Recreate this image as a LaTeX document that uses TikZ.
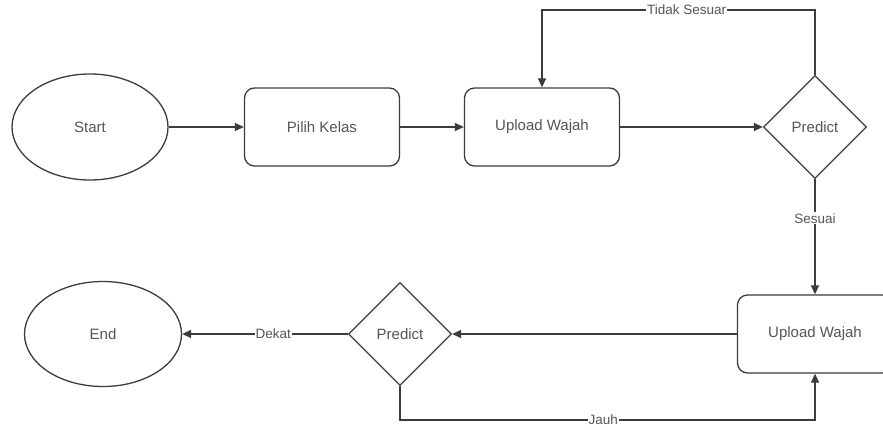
\documentclass[tikz,border=0pt]{standalone}
\usepackage{fontspec}
\setmainfont{Liberation Sans}
\usetikzlibrary{shapes.geometric,arrows.meta}
\definecolor{linec}{HTML}{3C3C3C}
\definecolor{textc}{HTML}{555555}
\tikzset{
  base/.style={draw=linec, line width=1.3pt, text=textc, font=\fontsize{15}{18}\selectfont, inner sep=0pt},
  term/.style={base, ellipse, minimum width=156pt, minimum height=106pt},
  proc/.style={base, rectangle, rounded corners=10pt, minimum width=155pt, minimum height=78pt},
  dec/.style={base, diamond, aspect=1, minimum width=103pt, minimum height=103pt},
  arr/.style={draw=linec, line width=1.3pt, -{Triangle[length=9pt,width=8pt]}},
  lbl/.style={fill=white, text=textc, font=\fontsize{13.5}{16}\selectfont, inner sep=1pt}
}
\begin{document}
\begin{tikzpicture}[x=1pt,y=-1pt]
\useasboundingbox (0,0) rectangle (883,429);
\clip (0,0) rectangle (883,429);
\fill[white] (0,0) rectangle (883,429);
\node[term] (start) at (90,127) {Start};
\node[proc] (pilih) at (322,127) {Pilih Kelas};
\node[proc] (up1) at (542,127) {Upload Wajah};
\node[dec] (pr1) at (815,127) {Predict};
\node[proc] (up2) at (815,334) {Upload Wajah};
\node[dec] (pr2) at (400,334) {Predict};
\node[term, minimum width=157pt, minimum height=105pt] (end) at (103,334) {End};
\coordinate (t1) at (815,10);
\coordinate (t2) at (542,10);
\coordinate (b1) at (400,420);
\coordinate (b2) at (815,420);
\draw[arr] (start) -- (pilih);
\draw[arr] (pilih) -- (up1);
\draw[arr] (up1) -- (pr1);
\draw[arr] (pr1.north) -- (t1) -- node[lbl, pos=0.47] {Tidak Sesuar} (t2) -- (up1.north);
\draw[arr] (pr1.south) -- node[lbl, pos=0.34] {Sesuai} (up2.north);
\draw[arr] (up2.west) -- (pr2.east);
\draw[arr] (pr2.west) -- node[lbl, pos=0.45] {Dekat} (end.east);
\draw[arr] (pr2.south) -- (b1) -- node[lbl, pos=0.49] {Jauh} (b2) -- (up2.south);
\end{tikzpicture}
\end{document}
